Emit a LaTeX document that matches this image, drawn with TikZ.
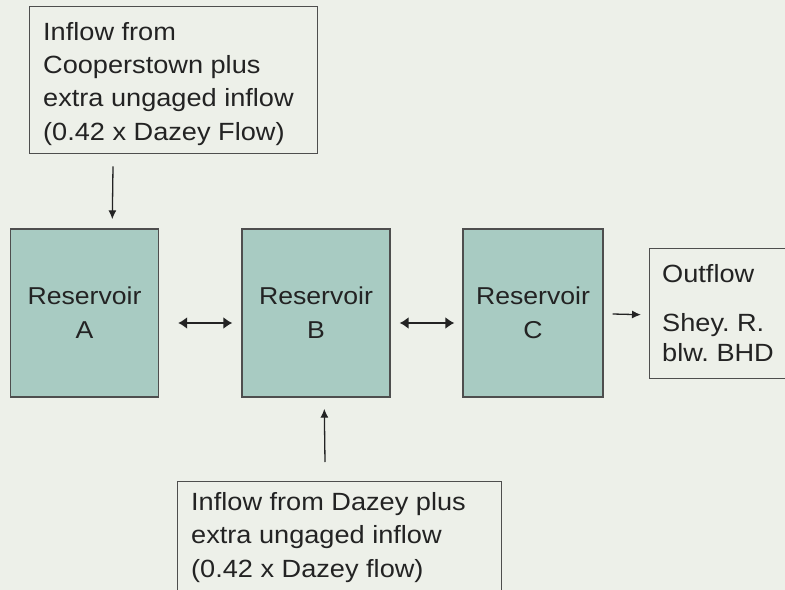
\documentclass[tikz,border=0pt]{standalone}
\usepackage{fontspec}
\setmainfont{Liberation Sans}[FakeStretch=1.09]
\usetikzlibrary{arrows.meta,calc}
\definecolor{bg}{RGB}{237,240,233}
\definecolor{resfill}{RGB}{168,203,194}
\definecolor{edge}{RGB}{78,78,78}
\definecolor{ink}{RGB}{35,35,35}
\frenchspacing
\tikzset{
  box/.style={draw=edge, line width=1.4bp, rectangle, inner sep=0pt, fill=bg},
  res/.style={draw=edge, line width=1.4bp, rectangle, inner sep=0pt, fill=resfill,
    text=ink, align=center, font=\fontsize{24.5}{34}\selectfont},
  txt/.style={inner sep=0pt, text=ink, align=left, font=\fontsize{25}{33.5}\selectfont},
  oneway/.style={draw=ink, line width=1.3bp, -{Latex[length=9bp,width=8bp]}},
  twoway/.style={draw=ink, line width=1.5bp, {Latex[length=9bp,width=12bp]}-{Latex[length=9bp,width=12bp]}}
}
\begin{document}
\begin{tikzpicture}[x=1bp,y=-1bp]
\fill[bg] (0,0) rectangle (785,590);
\useasboundingbox (0,0) rectangle (785,590);
\clip (0,0) rectangle (785,590);

% top inflow box
\node[box, anchor=north west, minimum width=288bp, minimum height=147bp] (top) at (29,6) {};
\node[txt, anchor=north west] (toptext) at (43,22) {Inflow from\\Cooperstown plus\\extra ungaged inflow\\(0.42 x Dazey Flow)};

% reservoirs
\node[res, minimum width=148bp, minimum height=168bp] (A) at (84.5,313) {Reservoir\\A};
\node[res, minimum width=148bp, minimum height=168bp] (B) at (316,313) {Reservoir\\B};
\node[res, minimum width=140bp, minimum height=168bp] (C) at (533,313) {Reservoir\\C};

% outflow box
\node[box, anchor=north west, minimum width=160bp, minimum height=130bp] (out) at (649,248) {};
\node[txt, anchor=north west] (outtext) at (662,264) {Outflow\\[15.5bp]Shey. R.\\[-3bp]blw. BHD};

% bottom inflow box
\node[box, anchor=north west, minimum width=324bp, minimum height=140bp] (bot) at (177,481) {};
\node[txt, anchor=north west] (bottext) at (191,492) {Inflow from Dazey plus\\extra ungaged inflow\\(0.42 x Dazey flow)};

% connectors
\coordinate (t1) at ($(top.south west)+(84,12)$);
\coordinate (t2) at ($(A.north west)+(102.5,-9)$);
\draw[oneway] (t1) -- (t2);

\draw[twoway] ($(A.east)+(19,10)$) -- ($(B.west)+(-9,10)$);
\draw[twoway] ($(B.east)+(9,10)$) -- ($(C.west)+(-8,10)$);

\draw[oneway] ($(C.east)+(9,1)$) -- ($(out.west)+(-8,1)$);

\coordinate (b1) at ($(bot.north west)+(148,-19)$);
\coordinate (b2) at ($(B.south west)+(83,11)$);
\draw[oneway] (b1) -- (b2);
\end{tikzpicture}
\end{document}
